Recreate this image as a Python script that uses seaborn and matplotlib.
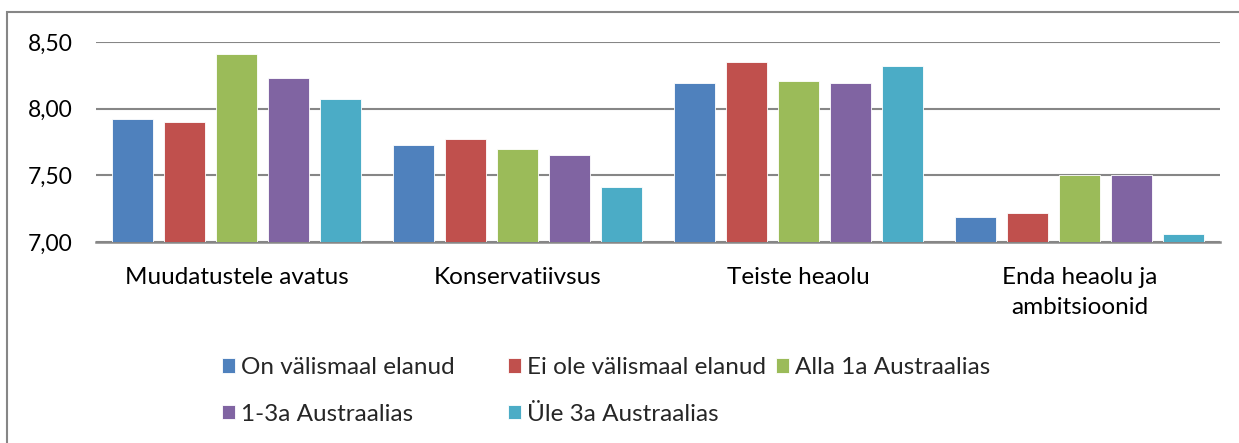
import matplotlib
matplotlib.use("Agg")
import matplotlib.pyplot as plt
from matplotlib.patches import Rectangle
from matplotlib.ticker import FuncFormatter
import seaborn as sns
import pandas as pd

categories = ["Muudatustele avatus", "Konservatiivsus", "Teiste heaolu", "Enda heaolu ja\nambitsioonid"]
series = ["On välismaal elanud", "Ei ole välismaal elanud", "Alla 1a Austraalias",
          "1-3a Austraalias", "Üle 3a Austraalias"]
on_valismaal = [7.92, 7.73, 8.19, 7.19]
ei_ole_valismaal = [7.90, 7.77, 8.35, 7.22]
alla_1a = [8.41, 7.70, 8.21, 7.50]
a1_3 = [8.23, 7.65, 8.19, 7.50]
yle_3a = [8.07, 7.41, 8.32, 7.06]
yticks = [7.0, 7.5, 8.0, 8.5]
colors = ["#4F81BD", "#C0504D", "#9BBB59", "#8064A2", "#4BACC6"]

values = [on_valismaal, ei_ole_valismaal, alla_1a, a1_3, yle_3a]
rows = []
for s, vals in zip(series, values):
    for c, v in zip(categories, vals):
        rows.append({"cat": c, "series": s, "value": v})
df = pd.DataFrame(rows)

sns.set_theme(style="white")
plt.rcParams["font.family"] = ["Lato", "DejaVu Sans"]

FS = 17.5

fig = plt.figure(figsize=(12.39, 4.43), dpi=100)
ax = fig.add_axes([96/1239, 1 - 242/443, (1220-96)/1239, 200/443])

sns.barplot(data=df, x="cat", y="value", hue="series", order=categories,
            hue_order=series, palette=colors, width=0.925, gap=0.21,
            ax=ax, edgecolor="white", linewidth=0.6, saturation=1, zorder=3)

ax.set_ylim(7.0, 8.5)
ax.set_xlim(-0.5, 3.5)
ax.set_yticks(yticks)
ax.yaxis.set_major_formatter(FuncFormatter(lambda v, p: f"{v:.2f}".replace(".", ",")))
ax.grid(axis="y", color="#868686", linewidth=1.5, zorder=0)
ax.grid(axis="x", visible=False)
for side in ["top", "right", "left"]:
    ax.spines[side].set_visible(False)
ax.spines["bottom"].set_color("#868686")
ax.spines["bottom"].set_linewidth(1.8)
ax.tick_params(axis="both", length=0, labelcolor="black")
ax.tick_params(axis="x", pad=18, labelsize=FS)
ax.tick_params(axis="y", pad=17, labelsize=16.5)
for t in ax.get_xticklabels():
    t.set_linespacing(1.55)
ax.set_xlabel("")
ax.set_ylabel("")

ax.legend_.remove()
handles, labels = ax.get_legend_handles_labels()
columns = [([0, 3], 222), ([1, 4], 508), ([2], 776)]
for idx, xpix in columns:
    leg = fig.legend([handles[i] for i in idx], [labels[i] for i in idx], ncol=1,
                     loc="upper left", bbox_to_anchor=(xpix/1239, 1 - 357/443),
                     frameon=False, fontsize=FS, handlelength=0.55, handleheight=0.55,
                     handletextpad=0.25, labelspacing=1.05,
                     borderaxespad=0, borderpad=0)

fig.patches.append(Rectangle((7/1239, -0.1), 1.2, (1 - 12/443) + 0.1,
                             transform=fig.transFigure, fill=False,
                             edgecolor="#868686", linewidth=1.5))

fig.savefig("out.png", dpi=100, facecolor="white")
